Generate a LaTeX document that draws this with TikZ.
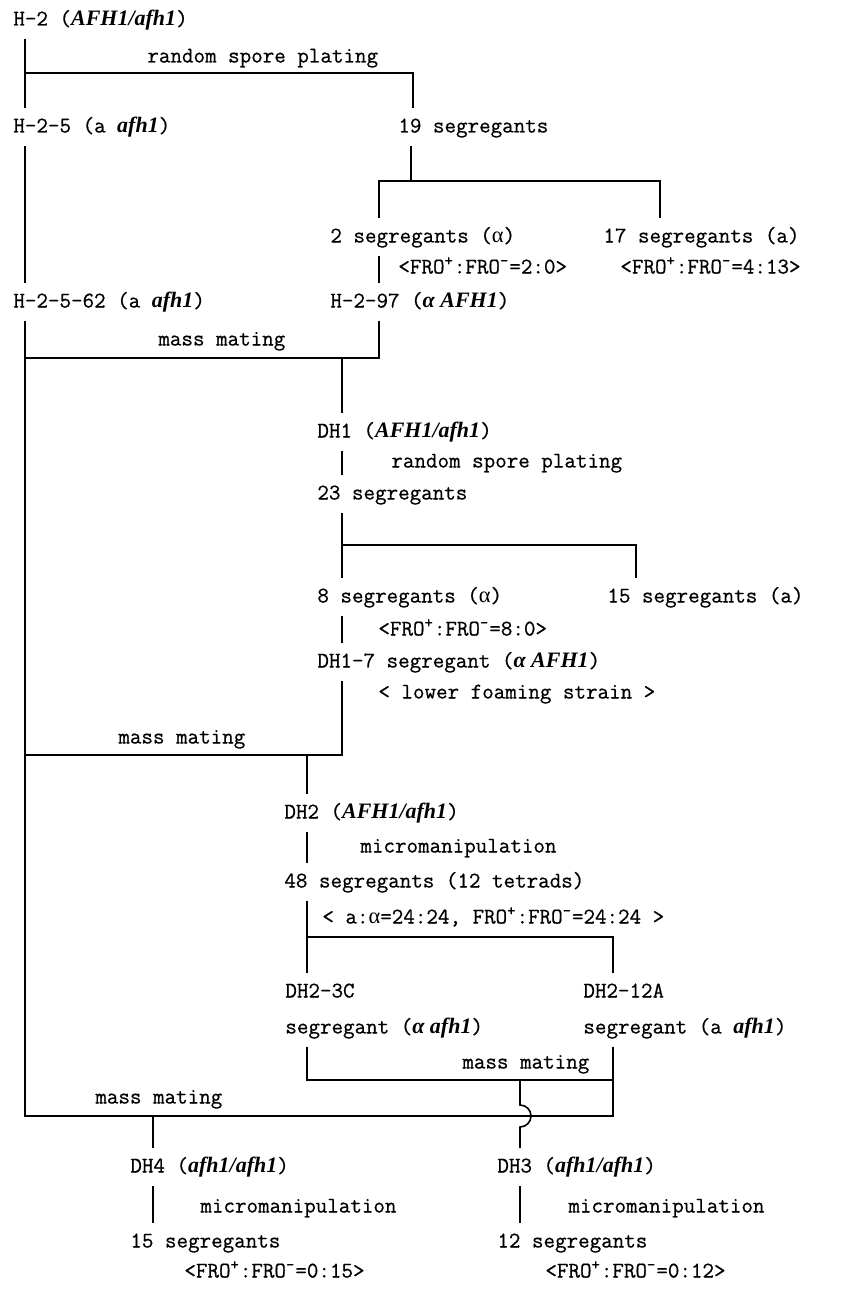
\documentclass[tikz,border=0pt]{standalone}
\usepackage{fontspec}
\setmonofont{Latin Modern Mono}[FakeBold=0.6]
\newfontfamily\genfamily{Liberation Serif}
\usetikzlibrary{positioning,calc}

\newcommand{\gen}[1]{{\genfamily\fontsize{11}{12}\selectfont\bfseries\itshape #1}}
\newcommand{\alf}{{\genfamily α}}
\newcommand{\froplus}{FRO\textsuperscript{+}}
\newcommand{\frominus}{FRO\textsuperscript{-}}

\begin{document}
\begin{tikzpicture}[
        x=0.5pt, y=-0.5pt,
        font=\ttfamily\fontsize{11.2}{13}\selectfont,
        txt/.style={
            anchor=west,
            inner xsep=0pt,
            inner ysep=4pt,
            text height=8pt,
            text depth=2.5pt
        },
        line/.style={
            line width=0.8pt
        }
    ]

    \useasboundingbox (0,0) rectangle (841,1289);
    \fill[white] (0,0) rectangle (841,1289);

    % Obere Reihe
    \node[txt] (H2) at (13,20) {H-2 (\gen{AFH1/afh1})};
    \node[txt] (rsp1) at (147,57) {random spore plating};
    \node[txt] (H25) at (13,127) {H-2-5 (a \gen{afh1})};
    \node[txt] (seg19) at (398,127) {19 segregants};
    \node[txt] (seg2) at (330,237) {2 segregants (\alf)};
    \node[txt] (seg17) at (603,237) {17 segregants (a)};
    \node[txt] (fro2) at (398,268) {<\froplus:\frominus=2:0>};
    \node[txt] (fro17) at (620,268) {<\froplus:\frominus=4:13>};
    \node[txt] (H2562) at (13,302) {H-2-5-62 (a \gen{afh1})};
    \node[txt] (H297) at (330,302) {H-2-97 (\gen{α AFH1})};
    \node[txt] (mm1) at (158,340) {mass mating};

    % Mittlere Reihe
    \node[txt] (DH1) at (317,432) {DH1 (\gen{AFH1/afh1})};
    \node[txt] (rsp2) at (391,462) {random spore plating};
    \node[txt] (seg23) at (317,494) {23 segregants};
    \node[txt] (seg8) at (317,597) {8 segregants (\alf)};
    \node[txt] (seg15) at (607,597) {15 segregants (a)};
    \node[txt] (fro8) at (378,630) {<\froplus:\frominus=8:0>};
    \node[txt] (DH17) at (317,662) {DH1-7 segregant (\gen{α AFH1})};
    \node[txt] (lower) at (378,693) {< lower foaming strain >};
    \node[txt] (mm2) at (118,738) {mass mating};

    \node[txt] (DH2) at (284,813) {DH2 (\gen{AFH1/afh1})};
    \node[txt] (micro2) at (360,847) {micromanipulation};
    \node[txt] (seg48) at (284,882) {48 segregants (12 tetrads)};
    \node[txt] (ratio) at (322,918) {< a:\alf=24:24, \froplus:\frominus=24:24 >};
    \node[txt] (DH23C) at (285,992) {DH2-3C};
    \node[txt] (DH212A) at (583,992) {DH2-12A};
    \node[txt] (sg3C) at (285,1028) {segregant (\gen{α afh1})};
    \node[txt] (sg12A) at (583,1028) {segregant (a \gen{afh1})};
    \node[txt] (mm3) at (462,1063) {mass mating};
    \node[txt] (mm4) at (95,1098) {mass mating};

    % Untere Reihe
    \node[txt] (DH4) at (130,1167) {DH4 (\gen{afh1/afh1})};
    \node[txt] (micro4) at (200,1207) {micromanipulation};
    \node[txt] (segDH4) at (130,1242) {15 segregants};
    \node[txt] (fro4) at (184,1272) {<\froplus:\frominus=0:15>};
    \node[txt] (DH3) at (497,1167) {DH3 (\gen{afh1/afh1})};
    \node[txt] (micro3) at (568,1207) {micromanipulation};
    \node[txt] (seg12) at (497,1242) {12 segregants};
    \node[txt] (fro3) at (545,1272) {<\froplus:\frominus=0:12>};

    % Verzweigungspunkte
    \coordinate (ja1) at (25,73);
    \coordinate (ja2) at (413,73);
    \coordinate (jb1) at (411,181);
    \coordinate (jb2) at (379,181);
    \coordinate (jb3) at (660,181);
    \coordinate (jc1) at (25,358);
    \coordinate (jc2) at (379,358);
    \coordinate (jc3) at (342,358);
    \coordinate (jd1) at (342,545);
    \coordinate (jd2) at (636,545);
    \coordinate (je1) at (25,755);
    \coordinate (je2) at (342,755);
    \coordinate (je3) at (307,755);
    \coordinate (jf1) at (307,937);
    \coordinate (jf2) at (613,937);
    \coordinate (jg1) at (307,1080);
    \coordinate (jg2) at (613,1080);
    \coordinate (jg3) at (520,1080);
    \coordinate (jh1) at (25,1116);
    \coordinate (jh2) at (613,1116);
    \coordinate (jh3) at (153,1116);

    % Linien
    \draw[line] (H2.south -| ja1) -- (H25.north -| ja1);
    \draw[line] (ja1) -- (ja2) -- (seg19.north -| ja2);
    \draw[line] (H25.south -| ja1) -- (H2562.north -| ja1);
    \draw[line] (H2562.south -| ja1) -- (jh1) -- (jh2) -- (sg12A.south -| jh2);
    \draw[line] (seg19.south -| jb1) -- (jb1);
    \draw[line] (seg2.north -| jb2) -- (jb2) -- (jb3) -- (seg17.north -| jb3);
    \draw[line] (seg2.south -| jb2) -- (H297.north -| jb2);
    \draw[line] (H297.south -| jb2) -- (jc2) -- (jc1);
    \draw[line] (jc3) -- (DH1.north -| jc3);
    \draw[line] (DH1.south -| jc3) -- (seg23.north -| jc3);
    \draw[line] (seg23.south -| jc3) -- (seg8.north -| jc3);
    \draw[line] (jd1) -- (jd2) -- (seg15.north -| jd2);
    \draw[line] (seg8.south -| jc3) -- (DH17.north -| jc3);
    \draw[line] (DH17.south -| jc3) -- (je2) -- (je1);
    \draw[line] (je3) -- (DH2.north -| je3);
    \draw[line] (DH2.south -| je3) -- (seg48.north -| je3);
    \draw[line] (seg48.south -| je3) -- (DH23C.north -| je3);
    \draw[line] (jf1) -- (jf2) -- (DH212A.north -| jf2);
    \draw[line] (sg3C.south -| jg1) -- (jg1) -- (jg2);
    \draw[line] (jg3) -- ++(0,25) arc[start angle=-90, end angle=90, radius=11]
        -- (DH3.north -| jg3);
    \draw[line] (jh3) -- (DH4.north -| jh3);
    \draw[line] (DH4.south -| jh3) -- (segDH4.north -| jh3);
    \draw[line] (DH3.south -| jg3) -- (seg12.north -| jg3);

\end{tikzpicture}
\end{document}
